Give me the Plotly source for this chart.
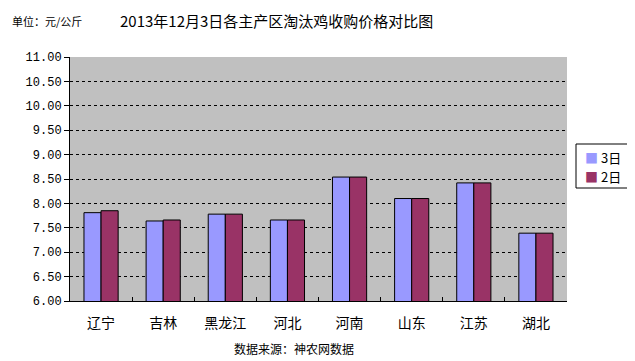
import plotly.graph_objects as go

categories = ["辽宁", "吉林", "黑龙江", "河北", "河南", "山东", "江苏", "湖北"]
series_names = ["3日", "2日"]
series_colors = ["#9999FF", "#993366"]
values_3 = [7.81, 7.64, 7.78, 7.66, 8.54, 8.10, 8.42, 7.39]
values_2 = [7.85, 7.66, 7.78, 7.66, 8.54, 8.10, 8.42, 7.39]
y_ticks = [6.0 + 0.5 * i for i in range(11)]
y_tick_labels = ["%.2f" % v for v in y_ticks]

title_text = "2013年12月3日各主产区淘汰鸡收购价格对比图"
unit_text = "单位：元/公斤"
source_text = "数据来源：神农网数据"

CJK = "Noto Sans CJK SC"
OFF = 8  # default page body margin
PW, PH = 497, 244  # plot area size in px


def px_x(x):
    return (x - 70) / PW


def px_y(y):
    return (301 - y) / PH


fig = go.Figure()
fig.add_trace(go.Bar(x=categories, y=values_3, name=series_names[0],
                     marker=dict(color=series_colors[0], line=dict(color="#000000", width=1))))
fig.add_trace(go.Bar(x=categories, y=values_2, name=series_names[1],
                     marker=dict(color=series_colors[1], line=dict(color="#000000", width=1))))

fig.update_layout(
    width=635 - OFF, height=361 - OFF,
    margin=dict(l=70 - OFF, r=68, t=57 - OFF, b=60, pad=0, autoexpand=False),
    paper_bgcolor="#FFFFFF",
    plot_bgcolor="#C0C0C0",
    barmode="group",
    bargap=0.45,
    bargroupgap=0,
    showlegend=False,
    font=dict(family=CJK, color="#000000"),
)

fig.update_xaxes(
    showline=True, linecolor="#000000", linewidth=1,
    ticks="inside", tickson="boundaries", ticklen=4, tickcolor="#000000",
    tickfont=dict(family=CJK, size=14, color="#000000"),
    ticklabelstandoff=9,
    showgrid=False, mirror=False,
)
fig.update_yaxes(
    range=[6.0, 11.0],
    tickvals=y_ticks, ticktext=y_tick_labels,
    tickfont=dict(family="Liberation Mono", size=12, color="#000000"),
    showline=True, linecolor="#000000", linewidth=1,
    ticks="outside", ticklen=5, tickcolor="#000000",
    showgrid=True, gridcolor="#000000", gridwidth=1, griddash="3px,3px",
    zeroline=False,
)

# legend box
fig.add_shape(type="rect", xref="paper", yref="paper",
              x0=px_x(576), x1=px_x(630), y0=px_y(188), y1=px_y(144),
              line=dict(color="#000000", width=1), fillcolor="#FFFFFF", layer="above")
for i, (c, n) in enumerate(zip(series_colors, series_names)):
    fig.add_annotation(text='<span style="color:%s">■</span>&nbsp;%s' % (c, n),
                       xref="paper", yref="paper",
                       x=px_x(583), y=px_y(157 + 19 * i), xanchor="left", yanchor="middle",
                       align="left", showarrow=False,
                       font=dict(family=CJK, size=13, color="#000000"))

fig.add_annotation(text=title_text, xref="paper", yref="paper",
                   x=px_x(276), y=px_y(20), xanchor="center", yanchor="middle",
                   showarrow=False, font=dict(family=CJK, size=15, color="#000000"))
fig.add_annotation(text=unit_text, xref="paper", yref="paper",
                   x=px_x(10), y=px_y(21), xanchor="left", yanchor="middle",
                   showarrow=False, font=dict(family=CJK, size=11, color="#000000"))
fig.add_annotation(text=source_text, xref="paper", yref="paper",
                   x=px_x(294), y=px_y(348), xanchor="center", yanchor="middle",
                   showarrow=False, font=dict(family=CJK, size=12, color="#000000"))

fig.write_html("out.html")
